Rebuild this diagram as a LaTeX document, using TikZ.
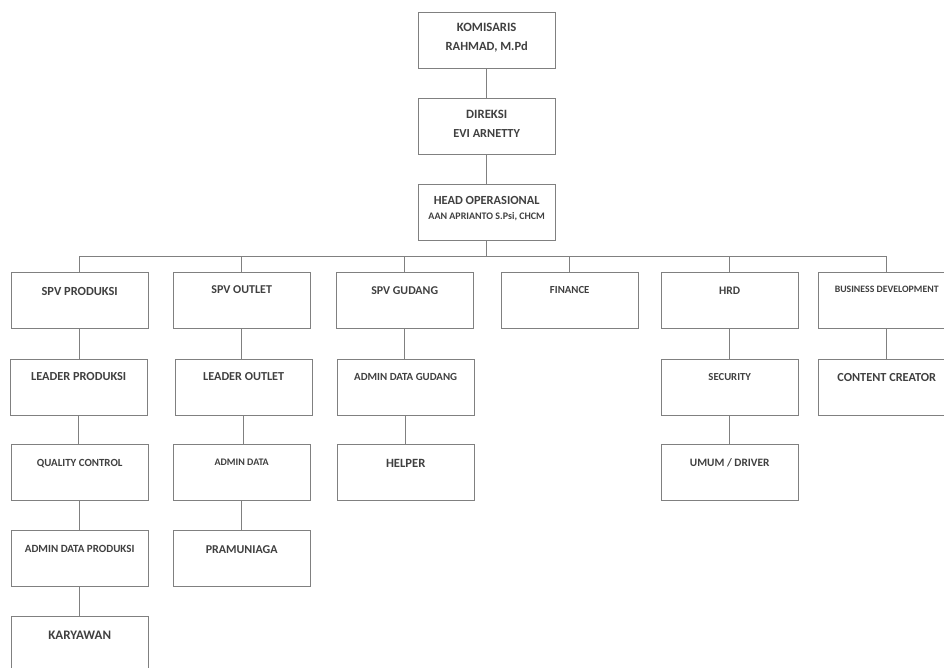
\documentclass[tikz,border=0pt]{standalone}
\usepackage{fontspec}
\setmainfont{Carlito}
\newcommand{\fsz}[1]{\fontsize{#1pt}{#1pt}\selectfont\bfseries}
\definecolor{boxline}{RGB}{128,128,128}
\definecolor{txt}{RGB}{64,64,64}
\tikzset{
  bx/.style={draw=boxline, line width=0.9pt, rectangle, inner sep=0pt,
    minimum width=136.5pt, minimum height=56pt, anchor=north west},
  lbl/.style={text=txt, inner sep=0pt, anchor=base},
  conn/.style={draw=boxline, line width=0.9pt}
}
\begin{document}
\begin{tikzpicture}[x=1pt,y=-1pt]
\useasboundingbox (0,0) rectangle (944,668);
% top chain
\node[bx] (km) at (418,12) {};
\node[bx] (dr) at (418,98) {};
\node[bx] (ho) at (418,184) {};
\node[lbl,font=\fsz{12.7}] (km1) at ([yshift=-20pt]km.north) {KOMISARIS};
\node[lbl,font=\fsz{12.5}] (km2) at ([yshift=-39pt]km.north) {RAHMAD, M.Pd};
\node[lbl,font=\fsz{12.7}] (dr1) at ([yshift=-21pt]dr.north) {DIREKSI};
\node[lbl,font=\fsz{12.3}] (dr2) at ([yshift=-40pt]dr.north) {EVI ARNETTY};
\node[lbl,font=\fsz{12.4}] (ho1) at ([yshift=-21pt]ho.north) {HEAD OPERASIONAL};
\node[lbl,font=\fsz{10}] (ho2) at ([yshift=-36pt]ho.north) {AAN APRIANTO S.Psi, CHCM};
% row 1
\node[bx] (sp) at (11,272) {};
\node[bx] (so) at (173,272) {};
\node[bx] (sg) at (336,272) {};
\node[bx] (fi) at (501,272) {};
\node[bx] (hr) at (661,272) {};
\node[bx] (bd) at (818,272) {};
% row 2
\node[bx] (lp) at (10,359) {};
\node[bx] (lo) at (175,359) {};
\node[bx] (adg) at (337,359) {};
\node[bx] (se) at (661,359) {};
\node[bx] (cc) at (818,359) {};
% row 3
\node[bx] (qc) at (11,444) {};
\node[bx] (ad) at (173,444) {};
\node[bx] (he) at (337,444) {};
\node[bx] (um) at (661,444) {};
% row 4
\node[bx] (adp) at (11,530) {};
\node[bx] (pr) at (173,530) {};
% row 5
\node[bx] (ka) at (11,616) {};
% labels
\node[lbl,font=\fsz{12.4}] (sp-t) at ([yshift=-23pt]sp.north) {SPV PRODUKSI};
\node[lbl,font=\fsz{12}] (so-t) at ([yshift=-21pt]so.north) {SPV OUTLET};
\node[lbl,font=\fsz{11.9}] (sg-t) at ([yshift=-22pt]sg.north) {SPV GUDANG};
\node[lbl,font=\fsz{10.8}] (fi-t) at ([yshift=-21pt]fi.north) {FINANCE};
\node[lbl,font=\fsz{11.5}] (hr-t) at ([yshift=-22pt]hr.north) {HRD};
\node[lbl,font=\fsz{9.8}] (bd-t) at ([yshift=-20pt]bd.north) {BUSINESS DEVELOPMENT};
\node[lbl,font=\fsz{12.3}] (lp-t) at ([yshift=-21pt]lp.north) {LEADER PRODUKSI};
\node[lbl,font=\fsz{12.2}] (lo-t) at ([yshift=-21pt]lo.north) {LEADER OUTLET};
\node[lbl,font=\fsz{10.9}] (adg-t) at ([yshift=-21pt]adg.north) {ADMIN DATA GUDANG};
\node[lbl,font=\fsz{10.7}] (se-t) at ([yshift=-21pt]se.north) {SECURITY};
\node[lbl,font=\fsz{12.3}] (cc-t) at ([yshift=-22pt]cc.north) {CONTENT CREATOR};
\node[lbl,font=\fsz{10.9}] (qc-t) at ([yshift=-22pt]qc.north) {QUALITY CONTROL};
\node[lbl,font=\fsz{10}] (ad-t) at ([yshift=-21pt]ad.north) {ADMIN DATA};
\node[lbl,font=\fsz{12.6}] (he-t) at ([yshift=-23pt]he.north) {HELPER};
\node[lbl,font=\fsz{11.3}] (um-t) at ([yshift=-22pt]um.north) {UMUM / DRIVER};
\node[lbl,font=\fsz{11}] (adp-t) at ([yshift=-22pt]adp.north) {ADMIN DATA PRODUKSI};
\node[lbl,font=\fsz{12}] (pr-t) at ([yshift=-23pt]pr.north) {PRAMUNIAGA};
\node[lbl,font=\fsz{13}] (ka-t) at ([yshift=-23pt]ka.north) {KARYAWAN};
% connectors
\coordinate (bus) at (0,256);
\draw[conn] (km.south) -- (dr.north);
\draw[conn] (dr.south) -- (ho.north);
\draw[conn] (ho.south) -- (ho.south |- bus);
\draw[conn] (sp.north |- bus) -- (bd.north |- bus);
\foreach \n in {sp,so,sg,fi,hr,bd}{
  \draw[conn] (\n.north |- bus) -- (\n.north);
}
\draw[conn] (sp.south) -- (sp.south |- lp.north);
\draw[conn] (lp.south) -- (lp.south |- qc.north);
\draw[conn] (qc.south) -- (qc.south |- adp.north);
\draw[conn] (adp.south) -- (adp.south |- ka.north);
\draw[conn] (so.south) -- (so.south |- lo.north);
\draw[conn] (lo.south) -- (lo.south |- ad.north);
\draw[conn] (ad.south) -- (ad.south |- pr.north);
\draw[conn] (sg.south) -- (sg.south |- adg.north);
\draw[conn] (adg.south) -- (adg.south |- he.north);
\draw[conn] (hr.south) -- (hr.south |- se.north);
\draw[conn] (se.south) -- (se.south |- um.north);
\draw[conn] (bd.south) -- (bd.south |- cc.north);
\end{tikzpicture}
\end{document}
